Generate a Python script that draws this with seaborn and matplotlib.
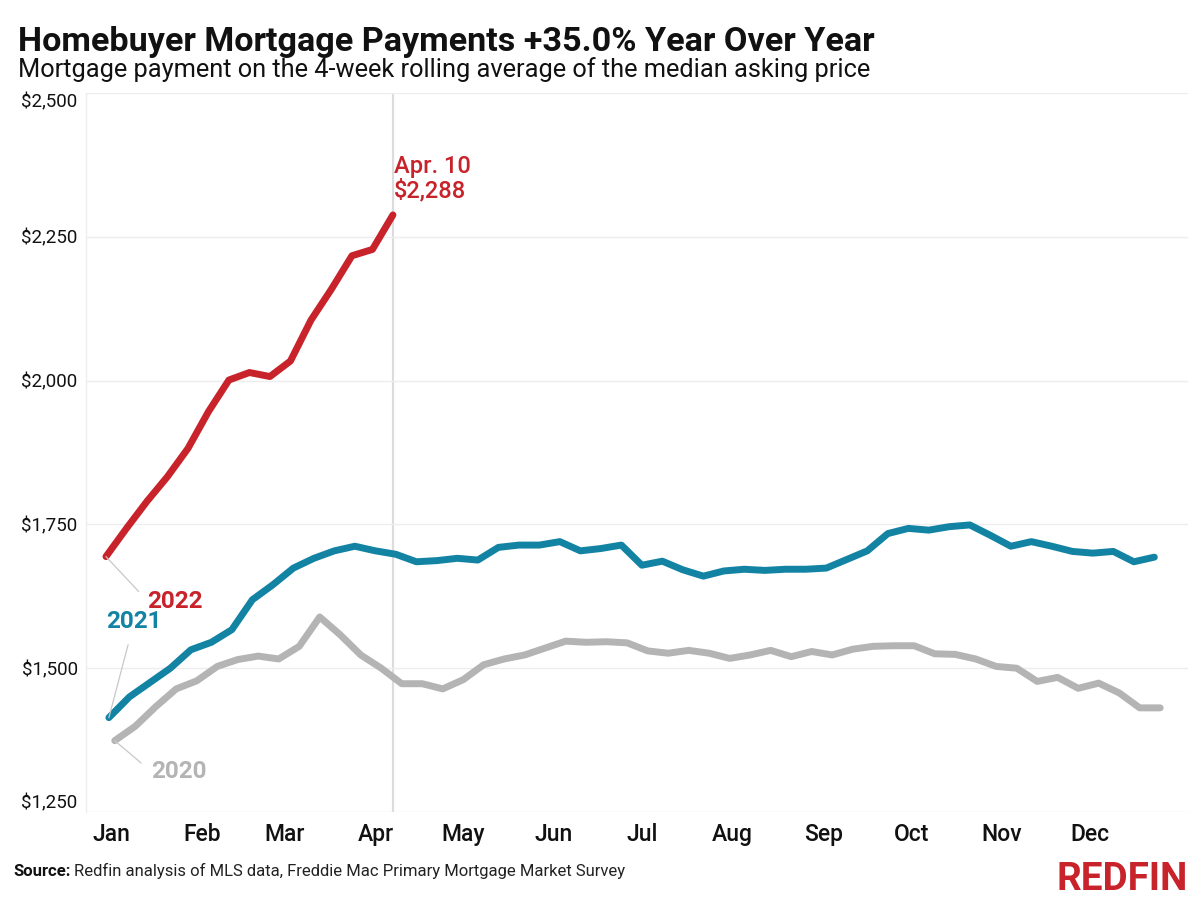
import pandas as pd
import matplotlib.pyplot as plt
import seaborn as sns

# Weekly mortgage payment (USD), weeks ending on Sunday
start_2020 = '2020-01-05'
pay_2020 = [1374, 1399, 1433, 1464, 1478, 1503, 1515, 1521, 1516, 1538, 1589, 1558, 1523, 1500,
            1473, 1473, 1464, 1480, 1506, 1516, 1523, 1535, 1547, 1545, 1546, 1544, 1530, 1526,
            1531, 1526, 1517, 1523, 1531, 1520, 1529, 1523, 1533, 1538, 1539, 1539, 1525, 1524,
            1516, 1503, 1500, 1477, 1484, 1465, 1474, 1457, 1431, 1431]
start_2021 = '2021-01-03'
pay_2021 = [1414, 1450, 1475, 1500, 1532, 1545, 1567, 1619, 1645, 1674, 1691, 1704, 1712, 1704,
            1698, 1685, 1687, 1691, 1688, 1710, 1714, 1714, 1720, 1704, 1708, 1714, 1679, 1686,
            1671, 1660, 1669, 1672, 1670, 1672, 1672, 1674, 1689, 1704, 1734, 1743, 1740, 1746,
            1749, 1731, 1712, 1720, 1712, 1703, 1700, 1703, 1685, 1693]
start_2022 = '2022-01-02'
pay_2022 = [1694, 1743, 1790, 1833, 1882, 1946, 2001, 2014, 2007, 2034, 2105, 2159, 2217, 2228, 2288]

month_labels = ['Jan', 'Feb', 'Mar', 'Apr', 'May', 'Jun', 'Jul', 'Aug', 'Sep', 'Oct', 'Nov', 'Dec']
y_ticks = [1250, 1500, 1750, 2000, 2250, 2500]

colors = {'2020': '#B4B4B4', '2021': '#1383A4', '2022': '#C8222A'}

frames = []
for year, start, vals in [('2020', start_2020, pay_2020), ('2021', start_2021, pay_2021),
                          ('2022', start_2022, pay_2022)]:
    dates = pd.date_range(start, periods=len(vals), freq='7D')
    frames.append(pd.DataFrame({'year': year, 'doy': dates.dayofyear, 'payment': vals}))
df = pd.concat(frames, ignore_index=True)

sns.set_style('white')
plt.rcParams['font.family'] = ['Roboto', 'DejaVu Sans']

fig = plt.figure(figsize=(12, 9), dpi=100)
ax = fig.add_axes([0.0717, 0.0978, 0.9183, 0.7989])

last = df[df['year'] == '2022'].iloc[-1]
ax.axvline(last['doy'], color='#DCDCDC', lw=1.6, zorder=0)

sns.lineplot(data=df, x='doy', y='payment', hue='year', palette=colors, lw=5,
             legend=False, ax=ax, sort=False, solid_capstyle='round', zorder=3)

ax.set_xlim(-4.8, 371.5)
ax.set_ylim(1250, 2500)
ax.set_xlabel('')
ax.set_ylabel('')

# month labels sit a few days after the 1st
month_starts = pd.date_range('2022-01-01', periods=12, freq='MS').dayofyear + 3
ax.set_xticks(month_starts)
ax.set_xticklabels(month_labels, fontsize=16.5, fontweight='medium', color='#111111')
ax.set_yticks(y_ticks)
ax.set_yticklabels(['${:,.0f}'.format(v) for v in y_ticks], fontsize=13.5, color='#111111')
ylabels = ax.get_yticklabels()
ylabels[0].set_va('bottom')
ylabels[-1].set_va('top')
ax.tick_params(axis='both', length=0)
ax.tick_params(axis='x', pad=8)
ax.tick_params(axis='y', pad=6)

ax.yaxis.grid(True, color='#EDEDED', lw=1)
ax.xaxis.grid(False)
for side in ['top', 'right', 'bottom']:
    ax.spines[side].set_visible(False)
ax.spines['left'].set_color('#EDEDED')
ax.spines['left'].set_linewidth(1)

# end-of-series label
ax.annotate('Apr. 10\n$2,288', xy=(last['doy'], last['payment']), xytext=(1, 9),
            textcoords='offset points', ha='left', va='bottom', fontsize=17,
            color=colors['2022'], fontweight='medium', linespacing=1.05)

# year labels with leader lines from the first point
leader = dict(arrowstyle='-', color='#C8C8C8', lw=0.9, shrinkB=0)
for year, offset, ha, va, rel in [('2022', (30, -32), 'left', 'center', (0, 0.5)),
                                  ('2021', (18, 69), 'center', 'center', (0.45, 0)),
                                  ('2020', (26, -22), 'left', 'center', (0, 0.5))]:
    first = df[df['year'] == year].iloc[0]
    ax.annotate(year, xy=(first['doy'], first['payment']), xytext=offset,
                textcoords='offset points', ha=ha, va=va, fontsize=17.5, fontweight='bold',
                color=colors[year], arrowprops=dict(leader, relpos=rel, shrinkA=6))

title = fig.text(0.015, 0.943, 'Homebuyer Mortgage Payments +35.0% Year Over Year',
                 fontsize=24, fontweight='bold', color='#111111', ha='left', va='baseline')
subtitle = fig.text(0.015, 0.914, 'Mortgage payment on the 4-week rolling average of the median asking price',
                    fontsize=18, color='#111111', ha='left', va='baseline')

src_bold = fig.text(0.011, 0.027, 'Source:', fontsize=12, fontweight='bold', color='#111111',
                    ha='left', va='baseline')
fig.canvas.draw()
renderer = fig.canvas.get_renderer()


def fit_width(txt, width_px):
    w = txt.get_window_extent(renderer).width
    txt.set_fontsize(txt.get_fontsize() * width_px / w)


fit_width(title, 857)
fit_width(subtitle, 855)

bb = src_bold.get_window_extent(renderer)
fig.text(bb.x1 / 1200 + 0.003, 0.027,
         'Redfin analysis of MLS data, Freddie Mac Primary Mortgage Market Survey',
         fontsize=12, color='#222222', ha='left', va='baseline')

logo = fig.text(0.99, 0.011, 'REDFIN', fontsize=26, fontweight='bold', color='#C8222A',
                ha='right', va='baseline')
fit_width(logo, 131)

plt.savefig('out.png', dpi=100)
